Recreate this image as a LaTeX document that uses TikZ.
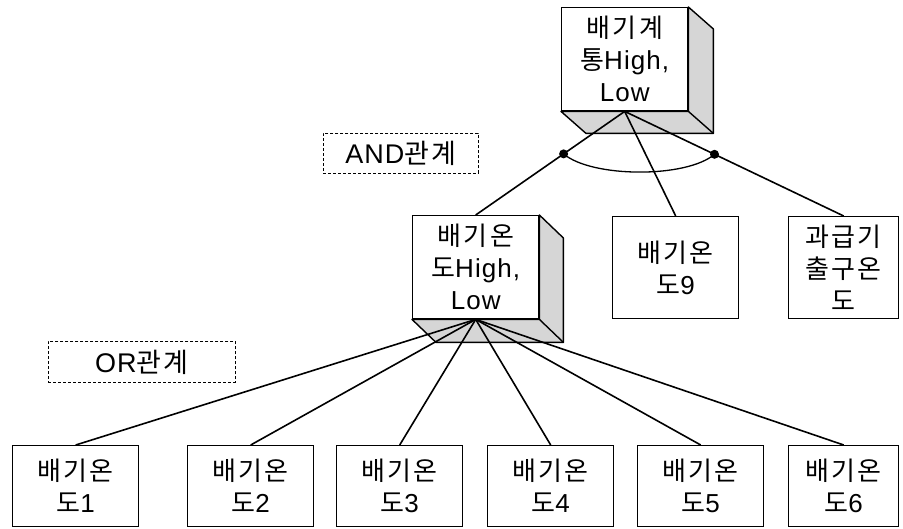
\documentclass[tikz,border=0pt]{standalone}
\usepackage{fontspec}
\setmainfont{Liberation Sans}[LetterSpace=4]
\newfontfamily\kr{Noto Sans CJK KR}[LetterSpace=9]
\usetikzlibrary{calc}
\begin{document}
\begin{tikzpicture}[x=1pt,y=-1pt,
  box/.style={draw, line width=1.4pt, anchor=north west, inner sep=0pt,
    minimum width=126pt, minimum height=103pt, align=center, fill=white,
    font=\fontsize{26}{32}\selectfont},
  leaf/.style={box, minimum height=81pt},
  side/.style={draw, line width=1.4pt, line join=round, fill=black!16},
  link/.style={line width=1.6pt},
  tag/.style={draw, dash pattern=on 3pt off 2pt, line width=0.9pt, anchor=north west,
    inner sep=0pt, font=\fontsize{27}{30}\selectfont},
  dot/.style={circle, fill=black, inner sep=0pt, minimum size=9pt}
]
\useasboundingbox (0,0) rectangle (903,528);

% top-level block with its extruded sides
\node[box] (sys) at (561,7) {{\kr 배기계}\\{\kr 통}High,\\Low};
\path[side] (sys.north east) -- ++(25,22) -- ($(sys.south east)+(25,22)$)
  -- ($(sys.south west)+(25,22)$) -- (sys.south west) -- (sys.south east) -- cycle;
\draw[line width=1.4pt] (sys.south east) -- ++(25,22);

% middle-level blocks
\node[box] (exh) at (412,215) {{\kr 배기온}\\{\kr 도}High,\\Low};
\path[side] (exh.north east) -- ++(24,23) -- ($(exh.south east)+(24,23)$)
  -- ($(exh.south west)+(24,23)$) -- (exh.south west) -- (exh.south east) -- cycle;
\draw[line width=1.4pt] (exh.south east) -- ++(24,23);

\node[box, minimum height=102pt] (t9) at (612,216) {{\kr 배기온}\\{\kr 도}9};
\node[box, minimum height=102pt, minimum width=110pt] (turbo) at (788,216)
  {{\kr 과급기}\\{\kr 출구온}\\{\kr 도}};

% leaf sensors
\node[leaf] (t1) at (12,445)  {{\kr 배기온}\\{\kr 도}1};
\node[leaf] (t2) at (187,445) {{\kr 배기온}\\{\kr 도}2};
\node[leaf] (t3) at (336,445) {{\kr 배기온}\\{\kr 도}3};
\node[leaf] (t4) at (487,445) {{\kr 배기온}\\{\kr 도}4};
\node[leaf] (t5) at (637,445) {{\kr 배기온}\\{\kr 도}5};
\node[leaf, minimum width=110pt] (t6) at (788,445) {{\kr 배기온}\\{\kr 도}6};

% relation tags
\node[tag, minimum width=155pt, minimum height=40pt] (andtag) at (323,133) {AND{\kr 관계}};
\node[tag, minimum width=187pt, minimum height=41pt] (ortag) at (48,341) {OR{\kr 관계}};

% AND branches
\draw[link] (sys.south) -- (exh.north);
\draw[link] (sys.south) -- (t9.north);
\draw[link] (sys.south) -- (turbo.north);
\coordinate (a1) at ($(sys.south)!0.41!(exh.north)$);
\coordinate (a2) at ($(sys.south)!0.41!(turbo.north)$);
\draw[line width=1.3pt] (a1) .. controls ($(a1)+(28,24)$) and ($(a2)+(-28,24)$) .. (a2);
\node[dot] (d1) at (a1) {};
\node[dot] (d2) at (a2) {};

% OR branches
\foreach \n in {t1,t2,t3,t4,t5,t6}
  \draw[link] (exh.south) -- (\n.north);
\end{tikzpicture}
\end{document}
